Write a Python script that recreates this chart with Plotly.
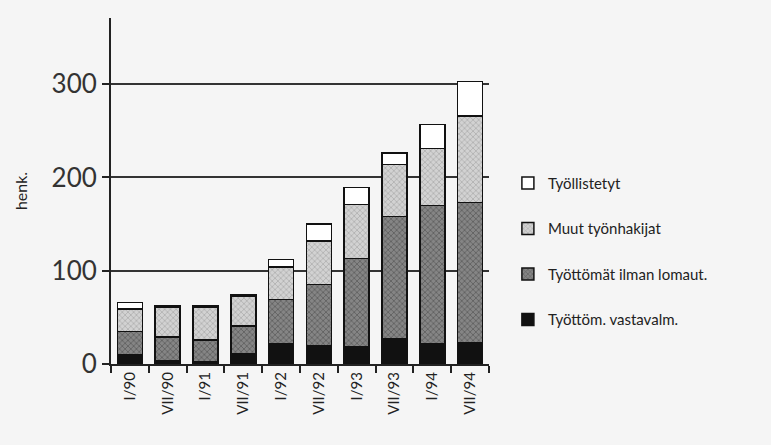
import plotly.graph_objects as go

categories = ["I/90", "VII/90", "I/91", "VII/91", "I/92", "VII/92", "I/93", "VII/93", "I/94", "VII/94"]
vastavalm = [10, 3, 2, 11, 22, 20, 19, 27, 22, 23]
ilman_lomaut = [25, 26, 24, 30, 47, 65, 94, 131, 148, 150]
muut = [24, 32, 35, 32, 35, 47, 58, 56, 61, 93]
tyollistetyt = [7, 2, 2, 1, 8, 18, 18, 12, 26, 37]

names = ["Työttöm. vastavalm.", "Työttömät ilman lomaut.", "Muut työnhakijat", "Työllistetyt"]
series = [vastavalm, ilman_lomaut, muut, tyollistetyt]
styles = [
    dict(color="#111111"),
    dict(color="#7e7e7e", pattern=dict(shape="x", bgcolor="#858585", fgcolor="#333333", size=4, solidity=0.35)),
    dict(color="#c8c8c8", pattern=dict(shape="x", bgcolor="#d2d2d2", fgcolor="#7a7a7a", size=4, solidity=0.3)),
    dict(color="#ffffff"),
]

BG = "#f5f5f5"
font_family = "Lato, 'DejaVu Sans', sans-serif"
fig = go.Figure()
for i, (nm, vals, st) in enumerate(zip(names, series, styles)):
    marker = dict(line=dict(color="#111111", width=1.5), **st)
    fig.add_trace(go.Bar(x=categories, y=vals, name=nm, marker=marker,
                         legendgroup=f"g{i}", legendrank=10 - i))

fig.update_layout(
    barmode="stack",
    bargap=0.34,
    width=771, height=445,
    margin=dict(l=111, r=282, t=18, b=81),
    paper_bgcolor=BG,
    plot_bgcolor=BG,
    font=dict(family=font_family, color="#222222"),
    legend=dict(x=1.05, y=0.57, xanchor="left", yanchor="top",
                traceorder="grouped", tracegroupgap=23,
                font=dict(size=15, color="#222222"), bgcolor="rgba(0,0,0,0)"),
    xaxis=dict(tickangle=-90, ticks="outside", tickson="boundaries", ticklen=7,
               tickcolor="#222", tickwidth=1.5, showline=True, linecolor="#222",
               linewidth=2, tickfont=dict(size=15, color="#222")),
    yaxis=dict(range=[0, 371], tickvals=[0, 100, 200, 300], ticks="outside",
               ticklen=7, tickcolor="#222", tickwidth=1.5, showline=True,
               linecolor="#222", linewidth=2, showgrid=True, gridcolor="#333",
               gridwidth=1.5, zeroline=False, tickfont=dict(size=26, color="#333"),
               title=dict(text="henk.", font=dict(size=16, color="#222"), standoff=20)),
)

fig.write_html("out.html", config={"displayModeBar": False},
               post_script="document.body.style.margin='0';document.body.style.background='%s';" % BG)
